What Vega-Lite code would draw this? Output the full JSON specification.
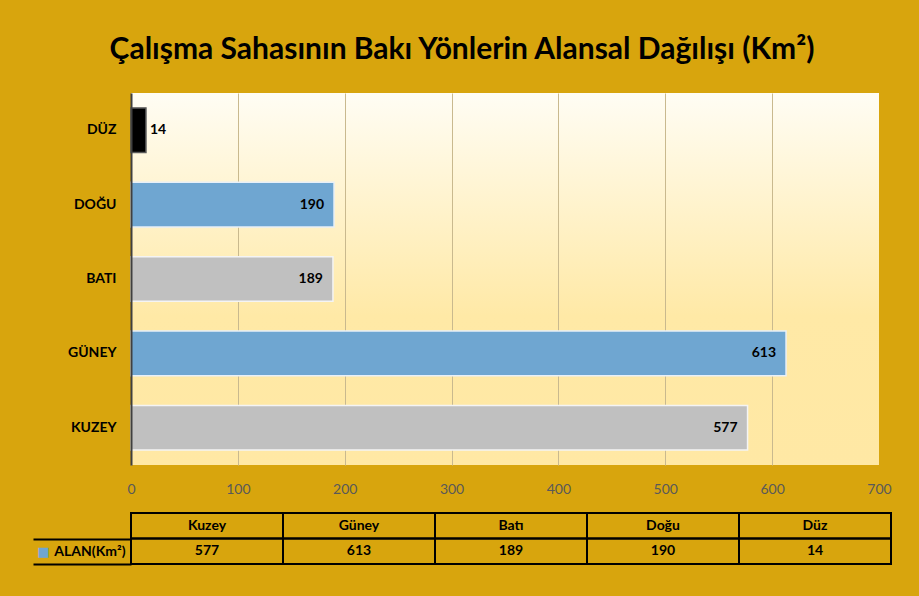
{
  "$schema": "https://vega.github.io/schema/vega-lite/v6.json",
  "background": "#D8A50D",
  "padding": {"left": 32, "top": 35, "right": 28, "bottom": 32},
  "title": {
    "text": "Çalışma Sahasının Bakı Yönlerin Alansal Dağılışı (Km²)",
    "font": "Lato",
    "fontSize": 30,
    "fontWeight": "bold",
    "color": "#000000",
    "anchor": "middle",
    "frame": "bounds",
    "offset": 28
  },
  "datasets": {
    "baki": [
      {"yon": "Kuzey", "alan": 577},
      {"yon": "Güney", "alan": 613},
      {"yon": "Batı", "alan": 189},
      {"yon": "Doğu", "alan": 190},
      {"yon": "Düz", "alan": 14}
    ]
  },
  "spacing": 10,
  "vconcat": [
    {
      "width": 748,
      "height": 372,
      "data": {"name": "baki"},
      "view": {
        "stroke": null,
        "fill": {
          "gradient": "linear",
          "x1": 0, "y1": 0, "x2": 0, "y2": 1,
          "stops": [
            {"offset": 0, "color": "#FFFDF4"},
            {"offset": 0.6, "color": "#FFE9A6"},
            {"offset": 1, "color": "#FFE8A4"}
          ]
        }
      },
      "encoding": {
        "y": {
          "field": "yon",
          "type": "nominal",
          "sort": ["Düz", "Doğu", "Batı", "Güney", "Kuzey"],
          "scale": {"paddingInner": 0.4, "paddingOuter": 0.2},
          "axis": {
            "title": null,
            "labelExpr": "upper(datum.label)",
            "labelFont": "Lato",
            "labelFontSize": 14,
            "labelFontWeight": "bold",
            "labelColor": "#000000",
            "labelPadding": 15,
            "ticks": false,
            "domainColor": "#404040",
            "domainWidth": 2,
            "zindex": 1
          }
        },
        "x": {
          "field": "alan",
          "type": "quantitative",
          "scale": {"domain": [0, 700], "nice": false},
          "axis": {
            "title": null,
            "values": [0, 100, 200, 300, 400, 500, 600, 700],
            "grid": true,
            "gridColor": {"condition": {"test": "datum.value >= 700", "value": "transparent"}, "value": "#C9B98E"},
            "domain": false,
            "ticks": false,
            "labelFlush": false,
            "labelColor": "#595959",
            "labelFont": "Lato",
            "labelFontSize": 14,
            "labelPadding": 17
          }
        }
      },
      "layer": [
        {
          "mark": {"type": "bar", "strokeWidth": 1.5},
          "encoding": {
            "color": {
              "field": "yon",
              "type": "nominal",
              "scale": {"domain": ["Kuzey", "Güney", "Batı", "Doğu", "Düz"], "range": ["#C0C0C0", "#6FA6D1", "#C0C0C0", "#6FA6D1", "#000000"]},
              "legend": null
            },
            "stroke": {
              "field": "yon",
              "type": "nominal",
              "scale": {"domain": ["Kuzey", "Güney", "Batı", "Doğu", "Düz"], "range": ["#F4F4F4", "#E8F0F8", "#F4F4F4", "#E8F0F8", "#5A5A5A"]},
              "legend": null
            }
          }
        },
        {
          "transform": [{"filter": "datum.alan >= 50"}],
          "mark": {"type": "text", "align": "right", "dx": -10, "font": "Lato", "fontSize": 14, "fontWeight": "bold", "color": "#000000"},
          "encoding": {"text": {"field": "alan", "type": "quantitative"}}
        },
        {
          "transform": [{"filter": "datum.alan < 50"}],
          "mark": {"type": "text", "align": "left", "dx": 4, "font": "Lato", "fontSize": 14, "fontWeight": "bold", "color": "#000000"},
          "encoding": {"text": {"field": "alan", "type": "quantitative"}}
        }
      ]
    },
    {
      "width": 760,
      "height": 51,
      "data": {"name": "baki"},
      "transform": [{"fold": ["yon", "alan"], "as": ["satir", "deger"]}],
      "encoding": {
        "x": {
          "field": "yon",
          "type": "nominal",
          "sort": ["Kuzey", "Güney", "Batı", "Doğu", "Düz"],
          "scale": {"paddingInner": 0, "paddingOuter": 0},
          "axis": null
        },
        "y": {
          "field": "satir",
          "type": "nominal",
          "scale": {"domain": ["yon", "alan"], "paddingInner": 0, "paddingOuter": 0},
          "axis": {
            "title": "■",
            "titleColor": "#6FA6D1",
            "titleFont": "DejaVu Sans",
            "titleFontSize": 13,
            "titleFontWeight": "normal",
            "titleAngle": 0,
            "titleX": -88,
            "titleY": 38,
            "titleAlign": "center",
            "titleBaseline": "middle",
            "values": ["alan"],
            "labelExpr": "datum.value == 'alan' ? 'ALAN(Km²)' : ''",
            "tickBand": "extent",
            "tickSize": 98,
            "tickColor": "#000000",
            "tickWidth": 2,
            "domain": false,
            "grid": false,
            "labelPadding": -92,
            "labelFont": "Lato",
            "labelFontSize": 14,
            "labelFontWeight": "bold",
            "labelColor": "#000000"
          }
        }
      },
      "layer": [
        {
          "mark": {"type": "rect", "filled": false, "stroke": "#000000", "strokeWidth": 2}
        },
        {
          "mark": {"type": "text", "font": "Lato", "fontSize": 14, "fontWeight": "bold", "color": "#000000"},
          "encoding": {"text": {"field": "deger", "type": "nominal"}}
        }
      ]
    }
  ],
  "config": {"view": {"stroke": null}, "font": "Lato"}
}
